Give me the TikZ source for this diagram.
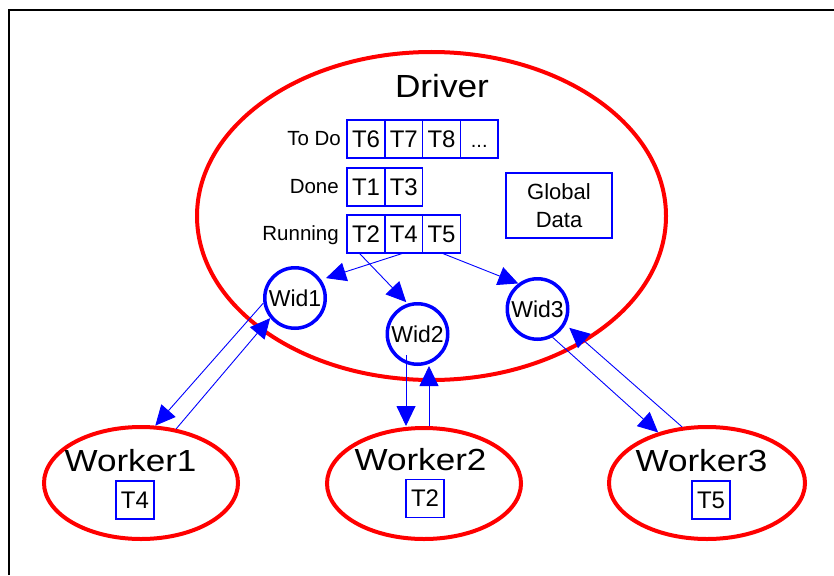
\documentclass[tikz,border=0pt]{standalone}
\usepackage{fontspec}
\setmainfont{Liberation Sans}
\usepackage{graphicx}
\usetikzlibrary{arrows.meta,shapes.geometric,calc}
\definecolor{pblue}{RGB}{0,0,255}
\definecolor{pred}{RGB}{255,0,0}
\tikzset{
  redoval/.style={ellipse, draw=pred, line width=4pt, inner sep=0pt},
  cell/.style={draw=pblue, line width=1.6pt, minimum width=37.75pt, minimum height=38pt,
               inner sep=0pt, outer sep=0pt, font=\fontsize{24}{28}\selectfont},
  nextcell/.style={cell, anchor=west, at=(#1.east)},
  wid/.style={circle, draw=pblue, line width=3.5pt, minimum size=60.5pt, inner sep=0pt,
              font=\fontsize{23}{27}\selectfont},
  lbl/.style={anchor=base east, inner sep=0pt, font=\fontsize{20.5}{24}\selectfont},
  bigtxt/.style={anchor=base, inner sep=0pt},
  link/.style={draw=pblue, line width=0.9pt, -{Triangle[length=20pt,width=19pt]}},
}
\begin{document}
\begin{tikzpicture}[x=1pt,y=-1pt]
\useasboundingbox (0,0) rectangle (834,575);

% frame
\draw[line width=2pt, line join=miter] (9,575) -- (9,10) -- (834,10);

% driver
\node[redoval, minimum width=469pt, minimum height=328pt] (drv) at (431.5,216) {};
\node[bigtxt, font=\fontsize{32}{36}\selectfont] (drvlbl) at (442,98) {\scalebox{1.1}[1]{Driver}};

% task queues
\node[lbl] (todo) at (341,145) {To Do};
\node[lbl] (done) at (339,193) {Done};
\node[lbl] (run)  at (339,240) {Running};

\node[cell] (q6) at (366,139) {T6};
\node[nextcell=q6] (q7) {T7};
\node[nextcell=q7] (q8) {T8};
\node[nextcell=q8] (qx) {\vphantom{T}{\fontsize{20}{24}\selectfont .\kern0pt.\kern0pt.}};

\node[cell] (d1) at (366,187) {T1};
\node[nextcell=d1] (d3) {T3};

\node[cell] (r2) at (366,234) {T2};
\node[nextcell=r2] (r4) {T4};
\node[nextcell=r4] (r5) {T5};

\node[draw=pblue, line width=1.6pt, minimum width=106pt, minimum height=65pt, inner sep=0pt,
      align=center, font=\fontsize{22}{28.5}\selectfont] (gd) at (559,205.5) {Global\\Data};

% worker ids
\node[wid] (w1) at (295,298) {Wid1};
\node[wid] (w2) at (417.5,334) {Wid2};
\node[wid] (w3) at (537.5,309) {Wid3};

% workers
\node[redoval, minimum width=194pt, minimum height=112pt] (wk1) at (141,483) {};
\node[redoval, minimum width=194pt, minimum height=111pt] (wk2) at (424,483.5) {};
\node[redoval, minimum width=196pt, minimum height=112pt] (wk3) at (707,483) {};

\node[bigtxt, font=\fontsize{30.5}{34}\selectfont] (wk1lbl) at (130.5,471) {\scalebox{1.15}[1]{Worker1}};
\node[bigtxt, font=\fontsize{30.5}{34}\selectfont] (wk2lbl) at (420.5,470) {\scalebox{1.15}[1]{Worker2}};
\node[bigtxt, font=\fontsize{30.5}{34}\selectfont] (wk3lbl) at (701.5,471) {\scalebox{1.15}[1]{Worker3}};

\node[cell] (k4) at (135,500) {T4};
\node[cell] (k2) at (425,498.5) {T2};
\node[cell, minimum width=38.5pt] (k5) at (711,500) {T5};

% dispatch of running tasks
\draw[link, shorten >=5pt] (r4.south) -- (w1.35);
\draw[link, shorten >=2pt] (r2.250) -- (w2.108);
\draw[link] (r5.south) -- (w3.127);

% driver <-> worker traffic
\draw[link] (w1.189) -- (wk1.76);
\draw[link] (wk1.57) -- (w1.219);

\coordinate (w2a) at ($(w2.center)+(-11.5,21)$);
\coordinate (w2b) at ($(w2.center)+(11.5,0)$);
\draw[link] (w2a) -- (w2a |- wk2.north);
\draw[link] (w2b |- wk2.north) -- (w2b |- w2.south);

\draw[link] (w3.298) -- (wk3.134);
\draw[link, shorten >=5pt] (wk3.114) -- (w3.331);
\end{tikzpicture}
\end{document}
